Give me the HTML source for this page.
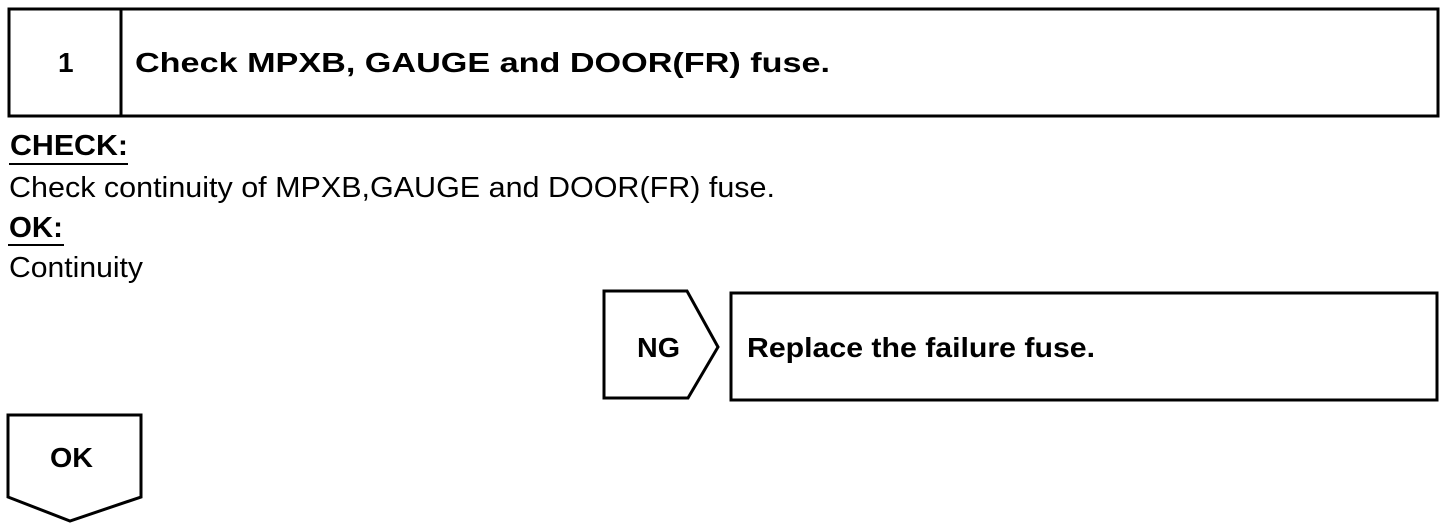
<!DOCTYPE html>
<html><head><meta charset="utf-8"><style>
html,body{margin:0;padding:0;background:#fff;}
svg{display:block;}
text{font-family:"Liberation Sans",Arial,sans-serif;fill:#000;}
</style></head><body>
<svg width="1456" height="530" viewBox="0 0 1456 530" xmlns="http://www.w3.org/2000/svg">
<g fill="none" stroke="#000" stroke-width="3">
<rect x="9" y="9" width="1429" height="107"/>
<line x1="121" y1="9" x2="121" y2="116"/>
<polygon points="604,291 687,291 718,347 688,398 604,398"/>
<rect x="731" y="293" width="706" height="107"/>
<polygon points="8,415 141,415 141,497 70,521 8,497"/>
</g>
<g stroke="#000" stroke-width="2">
<line x1="9" y1="164" x2="128" y2="164"/>
<line x1="8" y1="245" x2="64" y2="245"/>
</g>
<text x="58" y="72" font-size="28" font-weight="bold">1</text>
<text x="135" y="72" font-size="28" font-weight="bold" textLength="695" lengthAdjust="spacingAndGlyphs">Check MPXB, GAUGE and DOOR(FR) fuse.</text>
<text x="10" y="155" font-size="29" font-weight="bold" textLength="118" lengthAdjust="spacingAndGlyphs">CHECK:</text>
<text x="9" y="197" font-size="29" textLength="766" lengthAdjust="spacingAndGlyphs">Check continuity of MPXB,GAUGE and DOOR(FR) fuse.</text>
<text x="9" y="237" font-size="29" font-weight="bold" textLength="54" lengthAdjust="spacingAndGlyphs">OK:</text>
<text x="9" y="277" font-size="29" textLength="134" lengthAdjust="spacingAndGlyphs">Continuity</text>
<text x="637" y="357" font-size="28" font-weight="bold" textLength="43" lengthAdjust="spacingAndGlyphs">NG</text>
<text x="747" y="357" font-size="28" font-weight="bold" textLength="348" lengthAdjust="spacingAndGlyphs">Replace the failure fuse.</text>
<text x="50" y="467" font-size="28" font-weight="bold" textLength="43" lengthAdjust="spacingAndGlyphs">OK</text>
</svg>
</body></html>
